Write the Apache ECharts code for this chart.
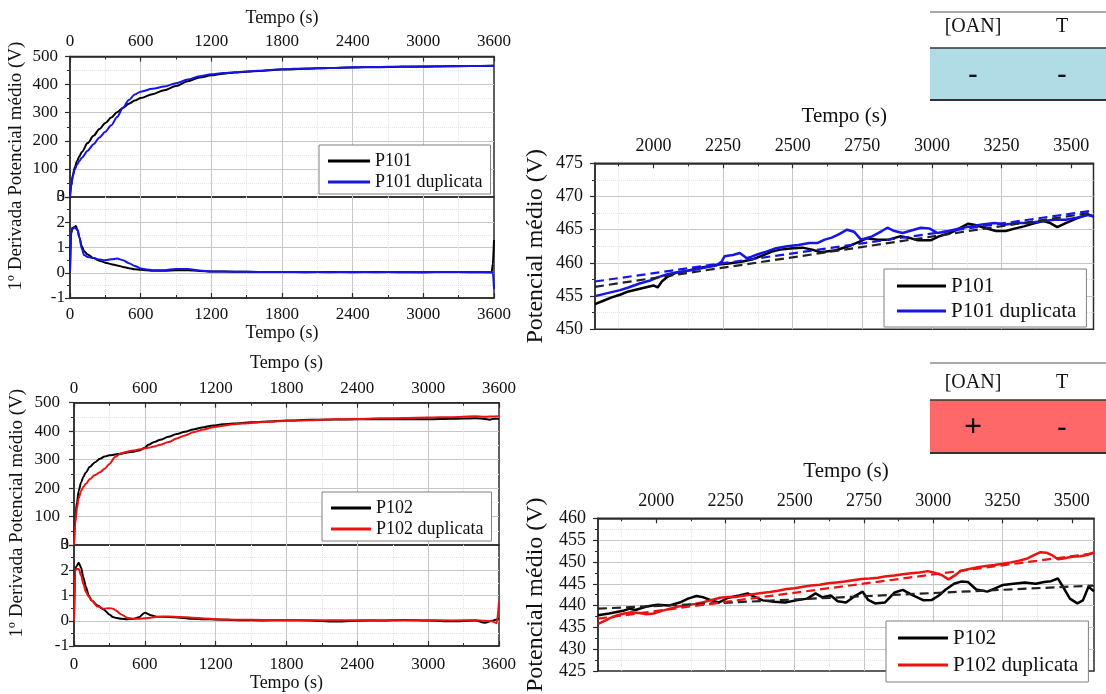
<!DOCTYPE html>
<html>
<head>
<meta charset="utf-8">
<script src="https://cdn.jsdelivr.net/npm/echarts@6/dist/echarts.min.js"></script>
<style>
  html, body { margin: 0; padding: 0; background: #ffffff; }
  #grafico { width: 1106px; height: 694px; }
</style>
</head>
<body>
<div id="grafico"></div>
<script>
// ---------- Potencial médio, ensaio completo (0 a 3600 s) ----------
const tempoP101 = [0, 10, 25, 40, 60, 80, 100, 150, 200, 250, 300, 350, 400, 450, 500, 550, 600, 700, 800, 900, 1000, 1100, 1200, 1300, 1400, 1600, 1800, 2000, 2200, 2400, 2600, 2800, 3000, 3200, 3400, 3600];
const potP101 = [0, 40, 80, 105, 128, 145, 160, 192, 218, 242, 263, 283, 302, 318, 332, 343, 352, 366, 380, 395, 412, 425, 433, 439, 443, 448, 453.5, 456.6, 459.5, 460.8, 461.8, 463.4, 463.4, 465, 466.3, 467];
const potP101dup = [0, 40, 75, 98, 115, 128, 140, 165, 188, 212, 232, 255, 285, 318, 345, 365, 375, 385, 393, 405, 418, 430, 437, 441, 444, 449, 455, 457.6, 459.2, 461.5, 463, 464.5, 465.2, 465.7, 466.3, 467];

const tempoP102 = [0, 10, 25, 40, 60, 80, 100, 135, 175, 220, 260, 300, 350, 400, 450, 500, 560, 600, 630, 680, 730, 800, 870, 940, 1010, 1100, 1180, 1260, 1350, 1500, 1650, 1800, 2000, 2200, 2400, 2600, 2800, 3000, 3200, 3400, 3480, 3520, 3560, 3600];
const potP102 = [0, 90, 150, 190, 220, 240, 255, 275, 290, 303, 311, 315, 318, 321, 325, 328, 333, 342, 352, 362, 370, 380, 390, 398, 406, 414, 420, 424, 427, 431, 434, 437.5, 440, 441, 441.5, 442, 441.5, 441.5, 443.5, 445.5, 443, 440.5, 444, 443.5];
const potP102dup = [0, 75, 130, 165, 190, 205, 215, 232, 245, 256, 268, 285, 310, 322, 328, 332, 336, 340, 342, 346, 352, 362, 374, 385, 396, 406, 414, 419, 424, 429, 433, 436, 438.5, 441.5, 443, 445, 446.5, 447.8, 449.2, 452, 450.7, 451.2, 451.5, 452];

// ---------- 1ª derivada do potencial ----------
const tempoD101 = [0, 10, 20, 35, 50, 65, 80, 100, 120, 150, 200, 250, 300, 350, 400, 450, 500, 550, 600, 650, 700, 800, 900, 1000, 1100, 1200, 1400, 1600, 1800, 2000, 2200, 2400, 2600, 2800, 3000, 3200, 3400, 3580, 3590, 3600];
const derP101 = [0, 1.55, 1.72, 1.8, 1.85, 1.65, 1.4, 1.05, 0.85, 0.72, 0.58, 0.48, 0.4, 0.34, 0.29, 0.23, 0.18, 0.14, 0.12, 0.1, 0.08, 0.08, 0.1, 0.1, 0.07, 0.05, 0.04, 0.03, 0.03, 0.02, 0.03, 0.02, 0.03, 0.02, 0.02, 0.03, 0.02, 0.02, 0.35, 1.3];
const derP101dup = [0, 1.7, 1.78, 1.8, 1.75, 1.7, 1.4, 0.95, 0.7, 0.62, 0.58, 0.52, 0.5, 0.53, 0.56, 0.5, 0.38, 0.27, 0.17, 0.13, 0.1, 0.1, 0.15, 0.15, 0.09, 0.05, 0.04, 0.03, 0.03, 0.03, 0.02, 0.03, 0.02, 0.03, 0.02, 0.03, 0.03, 0.02, 0.0, -0.65];

const tempoD102 = [0, 10, 20, 40, 60, 80, 100, 125, 150, 200, 250, 300, 330, 350, 400, 450, 500, 550, 600, 650, 700, 800, 900, 1000, 1100, 1200, 1400, 1600, 1800, 2000, 2200, 2400, 2600, 2800, 3000, 3200, 3400, 3480, 3540, 3580, 3600];
const derP102 = [0, 2.05, 2.15, 2.3, 2.1, 1.7, 1.35, 1.0, 0.8, 0.6, 0.45, 0.25, 0.15, 0.12, 0.08, 0.06, 0.07, 0.14, 0.32, 0.22, 0.16, 0.15, 0.12, 0.08, 0.06, 0.05, 0.02, 0.01, 0.02, 0.01, -0.03, 0.0, 0.01, 0.03, 0.01, -0.02, 0.01, -0.08, 0.0, 0.05, 0.1];
const derP102dup = [0, 2.0, 2.05, 2.05, 1.8, 1.45, 1.15, 0.95, 0.8, 0.56, 0.48, 0.5, 0.48, 0.42, 0.25, 0.12, 0.08, 0.08, 0.1, 0.12, 0.15, 0.17, 0.15, 0.12, 0.09, 0.06, 0.04, 0.03, 0.02, 0.02, 0.02, 0.02, 0.01, 0.02, 0.02, 0.01, 0.02, 0.0, -0.02, -0.1, 0.75];

// ---------- Detalhe da etapa final (1790 a 3580 s) ----------
const tempoZ101 = [1790, 1820, 1850, 1880, 1910, 1940, 1970, 2000, 2015, 2030, 2050, 2080, 2120, 2160, 2200, 2240, 2270, 2320, 2360, 2385, 2425, 2455, 2500, 2535, 2570, 2600, 2620, 2655, 2700, 2740, 2765, 2805, 2845, 2885, 2925, 2950, 2995, 3025, 3065, 3090, 3130, 3155, 3195, 3230, 3265, 3300, 3330, 3370, 3400, 3425, 3450, 3480, 3520, 3560, 3580];
const zoomP101 = [453.8, 454.3, 454.8, 455.2, 455.7, 456.0, 456.3, 456.6, 456.3, 457.2, 457.9, 458.5, 458.8, 459.2, 459.5, 459.8, 459.9, 460.2, 460.6, 461.0, 461.7, 462.0, 462.2, 462.3, 462.0, 461.6, 461.7, 461.9, 462.5, 463.2, 463.7, 463.5, 463.5, 464.0, 463.7, 463.4, 463.4, 464.0, 464.5, 465.0, 465.9, 465.7, 465.2, 464.8, 464.8, 465.2, 465.5, 466.0, 466.3, 466.0, 465.4, 466.0, 466.7, 467.3, 467.0];
const tempoZ101dup = [1790, 1820, 1850, 1880, 1910, 1950, 1985, 2020, 2050, 2085, 2120, 2150, 2185, 2225, 2245, 2255, 2285, 2310, 2335, 2350, 2375, 2405, 2440, 2480, 2520, 2560, 2590, 2615, 2640, 2665, 2695, 2720, 2745, 2785, 2820, 2840, 2865, 2895, 2935, 2960, 2990, 3020, 3060, 3100, 3140, 3180, 3225, 3265, 3305, 3345, 3400, 3440, 3480, 3520, 3560, 3580];
const zoomP101dup = [455.0, 455.3, 455.6, 455.9, 456.3, 456.9, 457.3, 457.9, 458.3, 458.6, 458.8, 459.0, 459.3, 459.6, 460.2, 461.0, 461.2, 461.5, 460.7, 460.9, 461.3, 461.7, 462.2, 462.5, 462.7, 463.0, 463.0, 463.5, 463.8, 464.3, 465.0, 464.7, 463.5, 464.0, 464.8, 465.3, 464.8, 464.5, 465.0, 465.3, 465.2, 464.5, 464.8, 465.2, 465.5, 465.8, 466.0, 465.8, 466.0, 466.0, 466.3, 466.5, 466.5, 466.8, 467.2, 467.0];
const tempoAjuste = [1790, 3580];
const ajusteP101 = [456.4, 467.6];
const ajusteP101dup = [457.2, 467.9];

const tempoZ102 = [1790, 1830, 1885, 1905, 1925, 1965, 2005, 2045, 2085, 2115, 2145, 2170, 2195, 2225, 2260, 2300, 2330, 2355, 2385, 2425, 2465, 2505, 2545, 2575, 2600, 2630, 2655, 2685, 2720, 2745, 2765, 2790, 2825, 2860, 2890, 2925, 2965, 2995, 3020, 3045, 3075, 3100, 3125, 3155, 3195, 3225, 3250, 3290, 3330, 3370, 3400, 3425, 3450, 3473, 3493, 3520, 3540, 3560, 3580];
const zoomP102 = [437.8, 438.2, 438.9, 439.3, 439.0, 439.8, 440.2, 440.0, 440.7, 441.6, 442.2, 441.9, 441.3, 440.7, 441.8, 442.3, 442.8, 442.0, 441.2, 440.9, 440.7, 441.2, 441.6, 442.8, 441.9, 442.3, 441.0, 440.7, 442.3, 443.2, 441.3, 440.5, 440.7, 443.0, 443.6, 442.4, 441.2, 441.3, 442.3, 443.7, 445.0, 445.5, 445.4, 443.7, 443.2, 444.0, 444.7, 445.0, 445.3, 445.0, 445.4, 445.6, 446.2, 443.8, 441.6, 440.5, 441.2, 444.3, 443.3];
const tempoZ102dup = [1790, 1810, 1835, 1860, 1885, 1910, 1940, 1965, 1990, 2020, 2050, 2080, 2110, 2140, 2170, 2200, 2230, 2260, 2290, 2320, 2350, 2380, 2410, 2440, 2470, 2500, 2530, 2560, 2590, 2620, 2650, 2680, 2710, 2740, 2770, 2800, 2830, 2860, 2890, 2920, 2950, 2980, 3000, 3030, 3055, 3075, 3100, 3130, 3160, 3190, 3220, 3250, 3280, 3310, 3340, 3365, 3385, 3410, 3430, 3450, 3470, 3500, 3530, 3555, 3580];
const zoomP102dup = [435.8, 436.4, 437.2, 437.8, 438.2, 438.5, 438.3, 438.0, 438.2, 438.8, 439.3, 439.8, 440.1, 440.4, 440.8, 441.3, 441.8, 442.0, 442.0, 442.3, 442.6, 442.9, 443.1, 443.4, 443.8, 444.0, 444.3, 444.6, 444.8, 445.1, 445.3, 445.5, 445.8, 446.1, 446.2, 446.4, 446.7, 446.9, 447.2, 447.4, 447.6, 447.9, 447.6, 447.0, 446.0, 446.8, 448.0, 448.4, 448.8, 449.1, 449.3, 449.6, 449.9, 450.3, 450.8, 451.6, 452.2, 452.1, 451.5, 450.6, 450.8, 451.2, 451.3, 451.6, 452.2];
const ajusteP102 = [439.3, 444.6];
const ajusteP102dup = [437.0, 452.0];

// ---------- Marcas dos eixos de tempo do detalhe ----------
const marcasTempoZoom = [2000, 2250, 2500, 2750, 3000, 3250, 3500];
const marcasMenoresZoom = [1875, 2125, 2375, 2625, 2875, 3125, 3375];

// ---------- Quadros de fatores ----------
const fatores = ['[OAN]', 'T'];
const sinaisP101 = ['-', '-'];
const sinaisP102 = ['+', '-'];

const F = 'Liberation Serif';
const corEixo = '#2b2b2b';
const corTexto = '#111111';
const corGrade = '#c6c6c6';
const corGradeMenor = '#e4e4e4';
const preto = '#000000';
const azul = '#1515e8';
const vermelho = '#ec1212';

const pares = (t, v) => t.map((x, i) => [x, v[i]]);
const semMilhar = v => String(v);

function eixoTempo(gi, pos, comRotulo, nameGap, margem) {
  return {
    type: 'value', gridIndex: gi, position: pos, min: 0, max: 3600, interval: 600,
    name: comRotulo ? 'Tempo (s)' : '', nameLocation: 'middle', nameGap: nameGap,
    nameTextStyle: { fontFamily: F, fontSize: 18, color: corTexto },
    axisLine: { show: true, onZero: false, lineStyle: { color: corEixo, width: 1.5 } },
    axisTick: { show: true, inside: true, length: 5, lineStyle: { color: corEixo, width: 1.2 } },
    minorTick: { show: true, splitNumber: 2, length: 3, lineStyle: { color: corEixo, width: 1 } },
    axisLabel: { show: comRotulo, margin: margem, fontFamily: F, fontSize: 17, color: corTexto, formatter: semMilhar },
    splitLine: { show: true, showMinLine: false, showMaxLine: false, lineStyle: { color: corGrade, width: 1 } },
    minorSplitLine: { show: true, lineStyle: { color: corGradeMenor, width: 1, type: 'dotted' } }
  };
}

// nomeDesloc: padding que sobe o título rotacionado ao longo do eixo
function eixoValor(gi, min, max, interval, nome, nameGap, margem, fs, nfs, nomeDesloc, semMin) {
  return {
    type: 'value', gridIndex: gi, position: 'left', min: min, max: max, interval: interval,
    name: nome, nameLocation: 'middle', nameGap: nameGap,
    nameTextStyle: { fontFamily: F, fontSize: nfs, color: corTexto, padding: nomeDesloc || 0 },
    axisLine: { show: true, onZero: false, lineStyle: { color: corEixo, width: 1.5 } },
    axisTick: { show: true, inside: false, length: 5, lineStyle: { color: corEixo, width: 1.2 } },
    minorTick: { show: true, splitNumber: 2, length: 3, lineStyle: { color: corEixo, width: 1 } },
    axisLabel: { margin: margem, fontFamily: F, fontSize: fs, color: corTexto, formatter: semMilhar, showMinLabel: !semMin },
    splitLine: { show: true, showMinLine: false, showMaxLine: false, lineStyle: { color: corGrade, width: 1 } },
    minorSplitLine: { show: true, lineStyle: { color: corGradeMenor, width: 1, type: 'dotted' } }
  };
}

// rótulo "0" do painel superior, desenhado sobre o "3" da derivada na junção dos painéis
function eixoZeroJuncao(gi, margem) {
  return {
    type: 'value', gridIndex: gi, position: 'left', min: -1, max: 3, interval: 1,
    axisLine: { show: false, onZero: false }, axisTick: { show: false }, splitLine: { show: false },
    axisLabel: { margin: margem, fontFamily: F, fontSize: 17, color: corTexto, formatter: v => (v === 3 ? '0' : '') }
  };
}

function eixoTempoZoom(gi, nameGap) {
  return {
    type: 'value', gridIndex: gi, position: 'top', min: 1790, max: 3580,
    name: 'Tempo (s)', nameLocation: 'middle', nameGap: nameGap,
    nameTextStyle: { fontFamily: F, fontSize: 21, color: corTexto },
    axisLine: { show: true, onZero: false, lineStyle: { color: corEixo, width: 1.5 } },
    axisTick: { show: true, inside: true, length: 5, customValues: marcasTempoZoom, lineStyle: { color: corEixo, width: 1.2 } },
    axisLabel: { customValues: marcasTempoZoom, margin: 8, fontFamily: F, fontSize: 18, color: corTexto, formatter: semMilhar },
    splitLine: { show: true, showMinLine: false, showMaxLine: false, lineStyle: { color: corGrade, width: 1 } }
  };
}

function eixoTempoZoomMenor(gi) {
  return {
    type: 'value', gridIndex: gi, position: 'top', min: 1790, max: 3580,
    axisLine: { show: false, onZero: false },
    axisTick: { show: true, inside: true, length: 3, customValues: marcasMenoresZoom, lineStyle: { color: corEixo, width: 1 } },
    axisLabel: { show: false, customValues: marcasMenoresZoom },
    splitLine: { show: true, lineStyle: { color: corGradeMenor, width: 1, type: 'dotted' } }
  };
}

function serie(nome, xi, yi, t, v, cor, larg, opc) {
  opc = opc || {};
  return {
    type: 'line', name: nome, xAxisIndex: xi, yAxisIndex: yi, data: pares(t, v),
    symbol: 'none', showSymbol: false, silent: true, clip: true,
    smooth: opc.suave ? 0.3 : false, smoothMonotone: 'x',
    lineStyle: { color: cor, width: larg, type: opc.tracejado ? [9, 5] : 'solid' },
    itemStyle: { color: cor }, z: opc.z || 2
  };
}

function legenda(nomes, left, top, largIcone, fs, alturaLinha, padding) {
  return {
    data: nomes, orient: 'vertical', left: left, top: top, selectedMode: false,
    icon: 'rect', itemWidth: largIcone, itemHeight: 3, itemGap: 1,
    padding: padding, backgroundColor: '#ffffff', borderColor: '#808080', borderWidth: 1, borderRadius: 0,
    textStyle: { fontFamily: F, fontSize: fs, color: corTexto, lineHeight: alturaLinha }
  };
}

function quadro(y0, yCab, yFaixa, yFim, corFaixa, sinais, fsSinal) {
  const x0 = 930, x1 = 1106, xs = [973, 1062];
  const els = [
    { type: 'rect', shape: { x: x0, y: yFaixa, width: x1 - x0, height: yFim - yFaixa }, style: { fill: corFaixa } },
    { type: 'line', shape: { x1: x0, y1: y0, x2: x1, y2: y0 }, style: { stroke: '#555555', lineWidth: 1.2 } },
    { type: 'line', shape: { x1: x0, y1: yFaixa, x2: x1, y2: yFaixa }, style: { stroke: '#333333', lineWidth: 1.5 } },
    { type: 'line', shape: { x1: x0, y1: yFim, x2: x1, y2: yFim }, style: { stroke: '#333333', lineWidth: 2 } }
  ];
  fatores.forEach((f, i) => els.push({ type: 'text', style: { text: f, x: xs[i], y: yCab, align: 'center', verticalAlign: 'middle', fontFamily: F, fontSize: 20, fill: corTexto } }));
  sinais.forEach((s, i) => els.push({ type: 'text', style: { text: s, x: xs[i], y: (yFaixa + yFim) / 2 + 1, align: 'center', verticalAlign: 'middle', fontFamily: F, fontSize: s === '+' ? fsSinal : 28, fontWeight: 'bold', fill: corTexto } }));
  return els;
}

const grade = (left, top, width, height) => ({ left, top, width, height, show: true, borderColor: corEixo, borderWidth: 1.5, backgroundColor: 'transparent' });

const option = {
  animation: false,
  backgroundColor: '#ffffff',
  grid: [
    grade(70, 56.5, 424, 140.5),
    grade(70, 197, 424, 101),
    grade(74, 402.7, 425, 142.3),
    grade(74, 545, 425, 101),
    grade(595, 163.3, 498.5, 166),
    grade(598, 518.3, 496, 164)
  ],
  xAxis: [
    eixoTempo(0, 'top', true, 29, 6),
    eixoTempo(1, 'bottom', true, 25, 8),
    eixoTempo(2, 'top', true, 30, 6),
    eixoTempo(3, 'bottom', true, 26, 10),
    eixoTempoZoom(4, 36),
    eixoTempoZoomMenor(4),
    eixoTempoZoom(5, 36),
    eixoTempoZoomMenor(5)
  ],
  yAxis: [
    eixoValor(0, 0, 500, 100, 'Potencial médio (V)', 44, 12, 17, 19, [0, 0, 0, 16], true),
    eixoValor(1, -1, 3, 1, '1º Derivada', 44, 5, 17, 19, [0, 0, 0, 4]),
    eixoValor(2, 0, 500, 100, 'Potencial médio (V)', 47, 14, 17, 19, [0, 0, 0, 16], true),
    eixoValor(3, -1, 3, 1, '1º Derivada', 47, 5, 17, 19, [0, 0, 0, 6]),
    eixoValor(4, 450, 475, 5, 'Potencial médio (V)', 47, 12, 18, 24),
    eixoValor(5, 425, 460, 5, 'Potencial médio (V)', 50, 12, 18, 24),
    eixoZeroJuncao(1, 5),
    eixoZeroJuncao(3, 5)
  ],
  legend: [
    legenda(['P101', 'P101 duplicata'], 319, 145, 42, 18, 20, [6, 8, 2, 9]),
    legenda(['P102', 'P102 duplicata'], 322, 492, 40, 18, 20, [6, 8, 2, 9]),
    legenda(['P101', 'P101 duplicata'], 884, 269, 49, 21, 24, [5, 10, 4, 13]),
    legenda(['P102', 'P102 duplicata'], 886, 621, 50, 21, 26, [4, 10, 4, 12])
  ],
  series: [
    serie('P101', 0, 0, tempoP101, potP101, preto, 2, { suave: true }),
    serie('P101 duplicata', 0, 0, tempoP101, potP101dup, azul, 2, { suave: true, z: 3 }),
    serie('P101', 1, 1, tempoD101, derP101, preto, 2, { suave: true }),
    serie('P101 duplicata', 1, 1, tempoD101, derP101dup, azul, 2, { suave: true, z: 3 }),
    serie('P102', 2, 2, tempoP102, potP102, preto, 2, { suave: true }),
    serie('P102 duplicata', 2, 2, tempoP102, potP102dup, vermelho, 2, { suave: true, z: 3 }),
    serie('P102', 3, 3, tempoD102, derP102, preto, 2, { suave: true }),
    serie('P102 duplicata', 3, 3, tempoD102, derP102dup, vermelho, 2, { suave: true, z: 3 }),
    serie('P101', 4, 4, tempoZ101, zoomP101, preto, 2.5),
    serie('P101 duplicata', 4, 4, tempoZ101dup, zoomP101dup, azul, 2.5),
    serie('Ajuste P101', 4, 4, tempoAjuste, ajusteP101, '#222222', 2.2, { tracejado: true, z: 4 }),
    serie('Ajuste P101 duplicata', 4, 4, tempoAjuste, ajusteP101dup, azul, 2.2, { tracejado: true, z: 4 }),
    serie('P102', 6, 5, tempoZ102, zoomP102, preto, 2.5),
    serie('P102 duplicata', 6, 5, tempoZ102dup, zoomP102dup, vermelho, 2.5),
    serie('Ajuste P102', 6, 5, tempoAjuste, ajusteP102, '#222222', 2.2, { tracejado: true, z: 4 }),
    serie('Ajuste P102 duplicata', 6, 5, tempoAjuste, ajusteP102dup, vermelho, 2.2, { tracejado: true, z: 4 })
  ],
  graphic: [].concat(
    quadro(12, 27, 48, 100, '#b0dce6', sinaisP101, 32),
    quadro(363, 383, 400, 453, '#ff6868', sinaisP102, 32)
  )
};

const grafico = echarts.init(document.getElementById('grafico'), null, { renderer: 'canvas' });
grafico.setOption(option);
</script>
</body>
</html>
